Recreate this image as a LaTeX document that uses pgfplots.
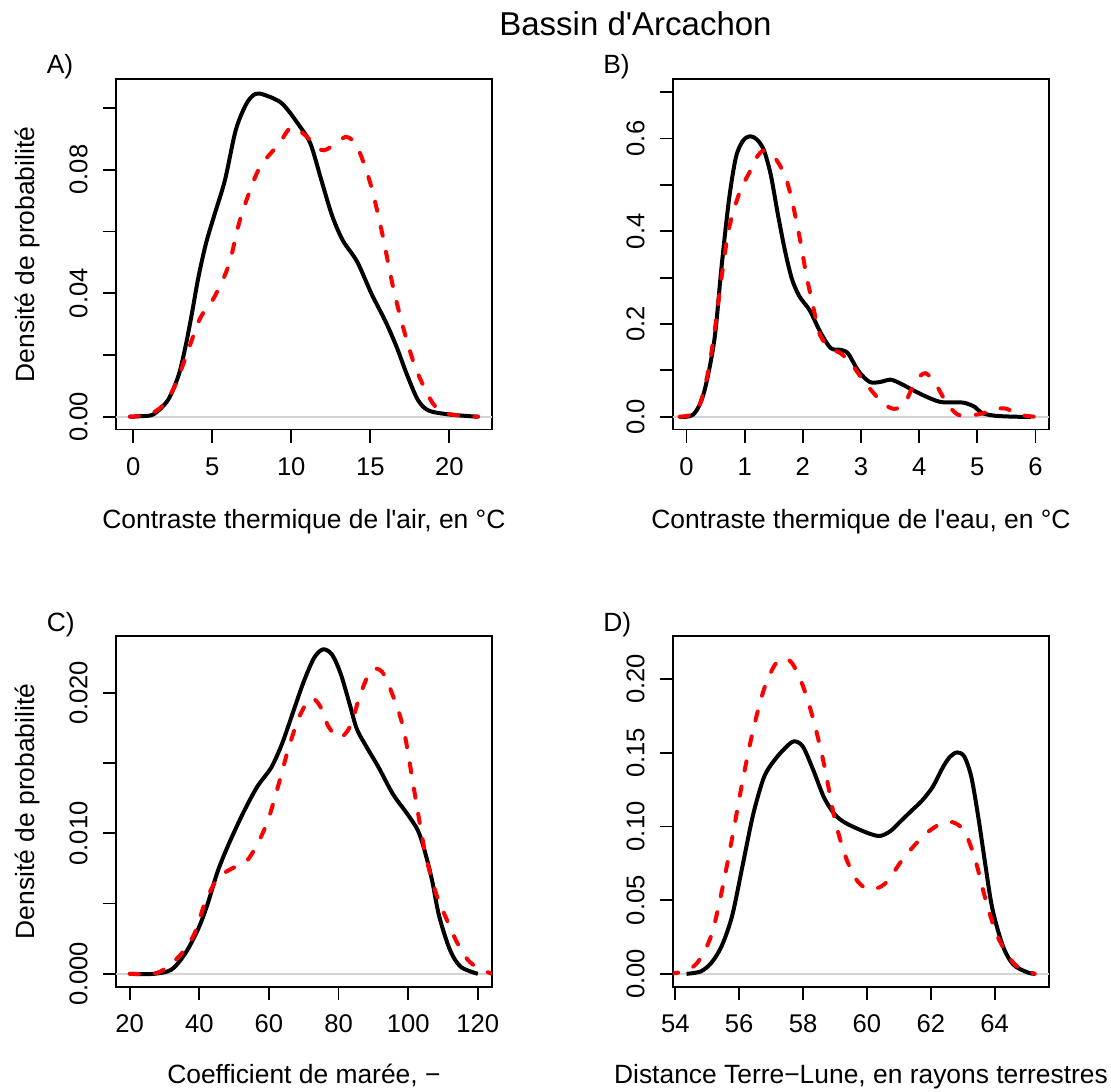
\documentclass[border=0pt]{standalone}
\usepackage{fontspec}
\setmainfont{Liberation Sans}[Ligatures=TeXOff]
\usepackage{pgfplots}
\pgfplotsset{compat=1.18}
\definecolor{zline}{RGB}{211,211,211}
\pgfplotsset{
 rplot/.style={
  scale only axis, width=188.2pt, height=175.15pt,
  anchor=south west,
  scaled ticks=false,
  axis line style={line width=0.9pt},
  tick align=outside, xtick pos=left, ytick pos=left,
  major tick length=6.5pt,
  every tick/.style={line width=0.9pt, black},
  tick label style={font=\fontsize{12.8}{15}\selectfont},
  yticklabel style={rotate=90, anchor=south},
  xticklabel shift=4pt, yticklabel shift=4pt,
 },
 blk/.style={black, line width=2pt, smooth, line join=round},
 rd/.style={red, line width=2pt, smooth, line cap=round, dash pattern=on 4.6pt off 8.2pt},
 zl/.style={zline, line width=0.8pt},
}
\newcommand{\lab}{\fontsize{13.2}{15}\selectfont}
\begin{document}
\begin{tikzpicture}
\useasboundingbox (0,0) rectangle (555.5pt,545.5pt);
% ---------------- A
\begin{axis}[rplot, at={(57.85pt,330.7pt)},
  xmin=-1.107, xmax=22.71, ymin=-0.00416, ymax=0.10925,
  xtick={0,5,10,15,20}, xticklabels={0,5,10,15,20},
  ytick={0,0.02,0.04,0.06,0.08,0.10}, yticklabels={0.00,,0.04,,0.08,}]
\addplot[zl] coordinates {(-1.107,0) (22.71,0)};
\addplot[blk] coordinates {(-0.22,0) (0.5,0.0002) (1.29,0.0008) (2.2,0.0054) (2.87,0.0134) (3.3,0.0225) (3.7,0.0330) (4.12,0.0450) (4.6,0.0560) (5.13,0.0652) (5.81,0.0767) (6.49,0.0928) (7.17,0.1014) (7.73,0.1045) (8.3,0.1042) (9.42,0.1014) (10.56,0.0939) (11.23,0.0882) (11.9,0.0767) (12.58,0.0652) (13.26,0.0571) (14.17,0.0502) (15.07,0.0399) (15.98,0.0307) (16.66,0.0227) (17.34,0.0134) (18.02,0.0054) (18.7,0.002) (20.06,0.0007) (21.83,0)};
\addplot[rd] coordinates {(-0.22,0) (0.5,0.0003) (1.29,0.0014) (1.97,0.0042) (2.64,0.01) (3.32,0.0192) (4.23,0.0318) (5.13,0.0387) (6.04,0.049) (6.71,0.0629) (7.39,0.0732) (8.07,0.0813) (9.2,0.0882) (9.99,0.0937) (10.78,0.0916) (11.9,0.0864) (12.58,0.0876) (13.38,0.0905) (13.94,0.0893) (14.4,0.0847) (15.07,0.0744) (15.75,0.0595) (16.43,0.0423) (17.11,0.0284) (17.79,0.0169) (18.47,0.0089) (19.15,0.0031) (20.06,0.0008) (21.83,0)};
\end{axis}
% ---------------- B
\begin{axis}[rplot, at={(336.4pt,330.7pt)},
  xmin=-0.236, xmax=6.237, ymin=-0.0277, ymax=0.7278,
  xtick={0,1,2,3,4,5,6}, xticklabels={0,1,2,3,4,5,6},
  ytick={0,0.1,0.2,0.3,0.4,0.5,0.6,0.7}, yticklabels={0.0,,0.2,,0.4,,0.6,}]
\addplot[zl] coordinates {(-0.236,0) (6.237,0)};
\addplot[blk] coordinates {(-0.12,0) (0.12,0.005) (0.30,0.052) (0.48,0.167) (0.60,0.321) (0.73,0.468) (0.85,0.56) (0.97,0.595) (1.09,0.605) (1.21,0.598) (1.33,0.575) (1.45,0.521) (1.57,0.437) (1.69,0.36) (1.81,0.298) (1.94,0.26) (2.12,0.229) (2.30,0.183) (2.48,0.148) (2.66,0.144) (2.78,0.136) (2.96,0.098) (3.15,0.075) (3.33,0.075) (3.51,0.08) (3.69,0.071) (3.87,0.059) (4.11,0.044) (4.36,0.032) (4.60,0.031) (4.78,0.030) (4.96,0.021) (5.08,0.008) (5.32,0.002) (5.69,0) (5.93,0)};
\addplot[rd] coordinates {(-0.12,0) (0.18,0.013) (0.36,0.09) (0.48,0.183) (0.60,0.298) (0.73,0.406) (0.91,0.483) (1.09,0.529) (1.21,0.56) (1.33,0.574) (1.51,0.56) (1.69,0.521) (1.81,0.468) (1.94,0.39) (2.06,0.306) (2.18,0.236) (2.30,0.175) (2.48,0.148) (2.66,0.136) (2.84,0.113) (3.02,0.082) (3.21,0.052) (3.39,0.028) (3.57,0.017) (3.75,0.028) (3.93,0.075) (4.11,0.094) (4.30,0.067) (4.48,0.028) (4.66,0.005) (4.84,0.002) (5.08,0.007) (5.32,0.017) (5.51,0.017) (5.69,0.005) (5.99,0)};
\end{axis}
% ---------------- C
\begin{axis}[rplot, at={(57.85pt,52.15pt)},
  xmin=16.0, xmax=124.1, ymin=-0.000916, ymax=0.02402,
  xtick={20,40,60,80,100,120}, xticklabels={20,40,60,80,100,120},
  ytick={0,0.005,0.010,0.015,0.020}, yticklabels={0.000,,0.010,,0.020}]
\addplot[zl] coordinates {(16,0) (124.1,0)};
\addplot[blk] coordinates {(20,0) (26.9,0) (32.0,0.0003) (36.1,0.0015) (39.7,0.0032) (42.3,0.0049) (45.3,0.0073) (48.4,0.0092) (52.5,0.0114) (56.6,0.0133) (60.7,0.0147) (63.8,0.0164) (66.9,0.0186) (70.0,0.0208) (73.0,0.0225) (75.6,0.0231) (78.2,0.0227) (80.7,0.0213) (83.3,0.0191) (85.3,0.0174) (88.4,0.016) (91.5,0.0147) (95.6,0.0128) (99.7,0.0114) (102.8,0.0102) (104.8,0.0087) (106.9,0.0066) (108.9,0.0041) (112.0,0.0017) (115.1,0.0005) (120,0)};
\addplot[rd] coordinates {(20,0) (26.9,0) (31.0,0.0005) (35.1,0.0015) (38.7,0.0029) (41.7,0.0051) (45.3,0.0068) (49.4,0.0075) (53.5,0.008) (56.6,0.0092) (59.7,0.0109) (62.8,0.0135) (65.8,0.0162) (68.9,0.0184) (72.0,0.0196) (74.6,0.0191) (77.1,0.0176) (80.2,0.0168) (83.3,0.0176) (86.4,0.02) (89.4,0.0216) (92.5,0.0215) (95.6,0.0198) (98.7,0.0174) (101.7,0.0131) (104.8,0.0087) (107.9,0.0058) (111.0,0.0039) (114.1,0.0022) (117.1,0.001) (120.2,0.0004) (124.1,0)};
\end{axis}
% ---------------- D
\begin{axis}[rplot, at={(336.4pt,52.15pt)},
  xmin=53.92, xmax=65.71, ymin=-0.00873, ymax=0.2289,
  xtick={54,56,58,60,62,64}, xticklabels={54,56,58,60,62,64},
  ytick={0,0.05,0.10,0.15,0.20}, yticklabels={0.00,0.05,0.10,0.15,0.20}]
\addplot[zl] coordinates {(53.92,0) (65.71,0)};
\addplot[blk] coordinates {(54.35,0) (54.79,0.0016) (55.12,0.0073) (55.45,0.0188) (55.78,0.0395) (56.11,0.0739) (56.44,0.1084) (56.78,0.1336) (57.11,0.1451) (57.44,0.1532) (57.71,0.1577) (57.99,0.1543) (58.32,0.1382) (58.65,0.1199) (58.98,0.1084) (59.31,0.1026) (59.75,0.098) (60.08,0.0951) (60.41,0.0935) (60.74,0.0969) (61.07,0.1038) (61.40,0.1107) (61.73,0.1176) (62.06,0.1268) (62.39,0.1405) (62.61,0.1474) (62.83,0.1502) (63.05,0.1474) (63.27,0.1336) (63.49,0.1061) (63.71,0.0739) (63.93,0.0441) (64.26,0.0188) (64.59,0.0062) (65.04,0.0009) (65.26,0)};
\addplot[rd] coordinates {(53.8,0) (54.24,0.0016) (54.68,0.0073) (55.12,0.0257) (55.45,0.0556) (55.78,0.0923) (56.11,0.1313) (56.44,0.1658) (56.78,0.1933) (57.11,0.2094) (57.38,0.214) (57.66,0.2106) (57.99,0.1956) (58.32,0.1727) (58.65,0.1428) (58.98,0.1061) (59.31,0.0808) (59.64,0.0648) (59.97,0.0579) (60.30,0.0579) (60.63,0.0625) (61.07,0.0762) (61.51,0.0877) (61.95,0.0969) (62.39,0.1026) (62.72,0.1026) (63.05,0.0969) (63.38,0.0785) (63.71,0.051) (64.04,0.028) (64.37,0.0142) (64.70,0.0051) (65.26,0)};
\end{axis}
% ---------------- texts
\node[anchor=base, font=\fontsize{16.5}{19}\selectfont] at (317.75pt,527.5pt) {Bassin d'Arcachon};
\node[anchor=base west, inner sep=0pt, font=\lab] at (23.2pt,508.9pt) {A)};
\node[anchor=base west, inner sep=0pt, font=\lab] at (301.45pt,508.9pt) {B)};
\node[anchor=base west, inner sep=0pt, font=\lab] at (23.2pt,229.95pt) {C)};
\node[anchor=base west, inner sep=0pt, font=\lab] at (301.45pt,229.95pt) {D)};
\node[anchor=base, inner sep=0pt, font=\lab] at (151.95pt,281.2pt) {Contraste thermique de l'air, en °C};
\node[anchor=base, inner sep=0pt, font=\lab] at (430.5pt,281.2pt) {Contraste thermique de l'eau, en °C};
\node[anchor=base, inner sep=0pt, font=\lab] at (151.95pt,3.85pt) {Coefficient de marée, −};
\node[anchor=base, inner sep=0pt, font=\lab] at (430.5pt,3.85pt) {Distance Terre−Lune, en rayons terrestres};
\node[anchor=base, inner sep=0pt, rotate=90, font=\lab] at (17.35pt,418.3pt) {Densité de probabilité};
\node[anchor=base, inner sep=0pt, rotate=90, font=\lab] at (17.35pt,139.75pt) {Densité de probabilité};
\end{tikzpicture}
\end{document}
